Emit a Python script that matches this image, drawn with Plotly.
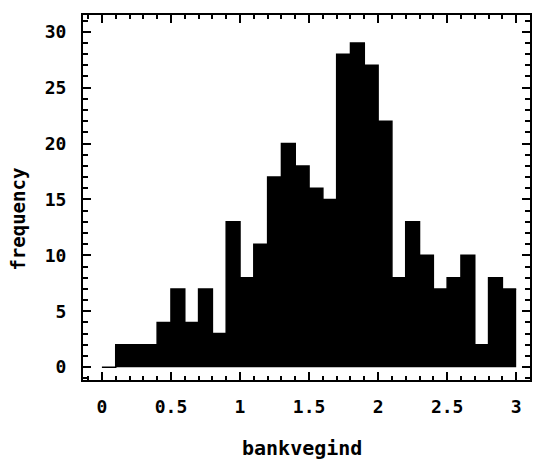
import numpy as np
import plotly.graph_objects as go

# histogram of bankvegind, bins of width 0.1 from 0 to 3
bin_start = 0.0
bin_width = 0.1
counts = [0, 2, 2, 2, 4, 7, 4, 7, 3, 13,
          8, 11, 17, 20, 18, 16, 15, 28, 29, 27,
          22, 8, 13, 10, 7, 8, 10, 2, 8, 7]
x_ticks = [0, 0.5, 1, 1.5, 2, 2.5, 3]
x_tick_labels = ["0", "0.5", "1", "1.5", "2", "2.5", "3"]
y_ticks = [0, 5, 10, 15, 20, 25, 30]
y_tick_labels = ["0", "5", "10", "15", "20", "25", "30"]

edges = np.round(bin_start + bin_width * np.arange(len(counts) + 1), 3)
step_y = counts + [counts[-1]]

FONT = "DejaVu Sans Mono"

fig = go.Figure()
fig.add_trace(go.Scatter(
    x=edges, y=step_y, mode="lines", line_shape="hv",
    line=dict(color="black", width=1.5),
    fill="tozeroy", fillcolor="black", hoverinfo="skip", showlegend=False,
))

axis_common = dict(
    showline=True, linecolor="black", linewidth=2, mirror="ticks",
    ticks="inside", tickcolor="black", tickwidth=2, ticklen=8,
    showgrid=False, zeroline=False,
    tickfont=dict(family=FONT, size=18, color="black", weight="bold"),
)

fig.update_xaxes(
    range=[-0.137, 3.1], tickvals=x_ticks, ticktext=x_tick_labels,
    minor=dict(dtick=0.1, ticks="inside", ticklen=4, tickwidth=1.5, tickcolor="black"),
    ticklabelstandoff=9,
    **axis_common,
)
fig.update_yaxes(
    range=[-1.15, 31.5], tickvals=y_ticks, ticktext=y_tick_labels,
    minor=dict(dtick=1, ticks="inside", ticklen=5, tickwidth=1.5, tickcolor="black"),
    ticklabelstandoff=11,
    **axis_common,
)

fig.add_annotation(
    text="bankvegind", xref="paper", yref="paper", x=0.49, y=-0.185,
    xanchor="center", yanchor="middle", showarrow=False,
    font=dict(family=FONT, size=20, color="black", weight="bold"),
)
fig.add_annotation(
    text="frequency", xref="paper", yref="paper", x=-0.145, y=0.44,
    xanchor="center", yanchor="middle", showarrow=False, textangle=-90,
    font=dict(family=FONT, size=19, color="black", weight="bold"),
)

fig.update_layout(
    width=535, height=459,
    margin=dict(l=83, r=3, t=15, b=79),
    paper_bgcolor="white", plot_bgcolor="white",
)

fig.write_html("out.html")
